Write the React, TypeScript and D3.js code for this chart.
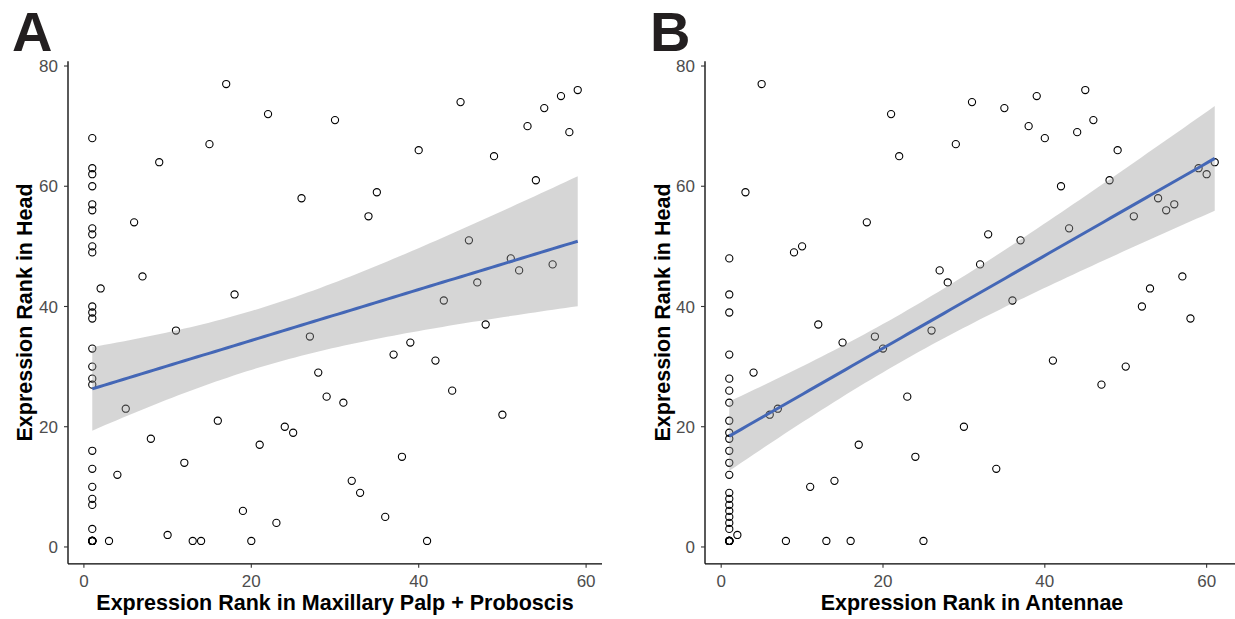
import * as d3 from "d3";

// Panel A: rank in maxillary palp + proboscis vs rank in head
const palpRank = [
  1, 1, 1, 1, 1, 1, 1, 1, 1, 1, 1, 1, 1, 1, 1, 1, 1, 1, 1, 1, 1, 1, 1, 1, 1, 1, 1, 1, 1,
  2, 3, 4, 5, 6, 7, 8, 9, 10, 11, 12, 13, 14, 15, 16, 17, 18, 19, 20, 21, 22, 23, 24, 25,
  26, 27, 28, 29, 30, 31, 32, 33, 34, 35, 36, 37, 38, 39, 40, 41, 42, 43, 44, 45, 46, 47,
  48, 49, 50, 51, 52, 53, 54, 55, 56, 57, 58, 59,
];
const headRankA = [
  68, 63, 62, 60, 57, 56, 53, 52, 50, 49, 40, 39, 38, 33, 30, 28, 27, 16, 13, 10, 8, 7, 3, 1, 1, 1, 1, 1, 1,
  43, 1, 12, 23, 54, 45, 18, 64, 2, 36, 14, 1, 1, 67, 21, 77, 42, 6, 1, 17, 72, 4, 20, 19,
  58, 35, 29, 25, 71, 24, 11, 9, 55, 59, 5, 32, 15, 34, 66, 1, 31, 41, 26, 74, 51, 44,
  37, 65, 22, 48, 46, 70, 61, 73, 47, 75, 69, 76,
];

// Panel B: rank in antennae vs rank in head
const antennaeRank = [
  1, 1, 1, 1, 1, 1, 1, 1, 1, 1, 1, 1, 1, 1, 1, 1, 1, 1, 1, 1, 1, 1, 1, 1, 1, 1, 1,
  2, 3, 4, 5, 6, 7, 8, 9, 10, 11, 12, 13, 14, 15, 16, 17, 18, 19, 20, 21, 22, 23, 24, 25,
  26, 27, 28, 29, 30, 31, 32, 33, 34, 35, 36, 37, 38, 39, 40, 41, 42, 43, 44, 45, 46, 47,
  48, 49, 50, 51, 52, 53, 54, 55, 56, 57, 58, 59, 60, 61,
];
const headRankB = [
  48, 42, 39, 32, 28, 26, 24, 21, 19, 18, 16, 14, 12, 9, 8, 7, 6, 5, 4, 3, 1, 1, 1, 1, 1, 1, 1,
  2, 59, 29, 77, 22, 23, 1, 49, 50, 10, 37, 1, 11, 34, 1, 17, 54, 35, 33, 72, 65, 25, 15, 1,
  36, 46, 44, 67, 20, 74, 47, 52, 13, 73, 41, 51, 70, 75, 68, 31, 60, 53, 69, 76, 71, 27,
  61, 66, 30, 55, 40, 43, 58, 56, 57, 45, 38, 63, 62, 64,
];

const xTicks = [0, 20, 40, 60];
const yTicks = [0, 20, 40, 60, 80];

const FONT = "'Liberation Sans', Arial, Helvetica, sans-serif";
const T975 = 1.988;

type PanelProps = {
  label: string;
  xs: number[];
  ys: number[];
  xTitle: string;
  x0: number;
  x1: number;
  labelX: number;
};

function fitLm(xs: number[], ys: number[]) {
  const n = xs.length;
  const mx = d3.mean(xs)!;
  const my = d3.mean(ys)!;
  let sxx = 0, sxy = 0;
  xs.forEach((x, i) => {
    sxx += (x - mx) * (x - mx);
    sxy += (x - mx) * (ys[i] - my);
  });
  const b = sxy / sxx;
  const a = my - b * mx;
  let sse = 0;
  xs.forEach((x, i) => {
    const r = ys[i] - (a + b * x);
    sse += r * r;
  });
  const s = Math.sqrt(sse / (n - 2));
  return { a, b, s, n, mx, sxx };
}

const Panel = ({ label, xs, ys, xTitle, x0, x1, labelX }: PanelProps) => {
  const [xmin, xmax] = d3.extent(xs) as [number, number];
  const [ymin, ymax] = d3.extent(ys) as [number, number];
  const xpad = (xmax - xmin) * 0.05;
  const ypad = (ymax - ymin) * 0.05;

  const x = d3.scaleLinear().domain([xmin - xpad, xmax + xpad]).range([x0, x1]);
  const y = d3.scaleLinear().domain([ymin - ypad, ymax + ypad]).range([563.8, 61.2]);

  // linear fit with 95% confidence band (like geom_smooth(method = "lm"))
  const fit = fitLm(xs, ys);
  const grid = d3.range(80).map((i) => xmin + ((xmax - xmin) * i) / 79);
  const band = grid.map((gx) => {
    const yh = fit.a + fit.b * gx;
    const se = fit.s * Math.sqrt(1 / fit.n + ((gx - fit.mx) ** 2) / fit.sxx);
    return { gx, yh, lo: yh - T975 * se, hi: yh + T975 * se };
  });

  const area = d3
    .area<{ gx: number; lo: number; hi: number }>()
    .x((d) => x(d.gx))
    .y0((d) => y(d.lo))
    .y1((d) => y(d.hi));
  const line = d3
    .line<{ gx: number; yh: number }>()
    .x((d) => x(d.gx))
    .y((d) => y(d.yh));

  const axX = x0;
  const axY = 563.8;

  return (
    <g fontFamily={FONT}>
      <text x={labelX} y={51} fontSize={56} fontWeight="bold" fill="#231f20">
        {label}
      </text>

      {xs.map((d, i) => (
        <circle
          key={i}
          cx={x(d)}
          cy={y(ys[i])}
          r={3.6}
          fill="none"
          stroke="#000"
          strokeWidth={1.1}
        />
      ))}

      <path d={area(band) || ""} fill="#999999" fillOpacity={0.4} />
      <path d={line(band) || ""} fill="none" stroke="#4467b6" strokeWidth={3} />

      {/* axes */}
      <line x1={axX} x2={axX} y1={61.2} y2={axY} stroke="#000" strokeWidth={1.3} />
      <line x1={axX} x2={x1} y1={axY} y2={axY} stroke="#000" strokeWidth={1.3} />
      {yTicks.map((t) => (
        <g key={t}>
          <line x1={axX - 4} x2={axX} y1={y(t)} y2={y(t)} stroke="#333" strokeWidth={1.1} />
          <text
            x={axX - 10}
            y={y(t)}
            dy="0.36em"
            textAnchor="end"
            fontSize={17}
            fill="#4d4d4d"
          >
            {t}
          </text>
        </g>
      ))}
      {xTicks.map((t) => (
        <g key={t}>
          <line x1={x(t)} x2={x(t)} y1={axY} y2={axY + 4} stroke="#333" strokeWidth={1.1} />
          <text x={x(t)} y={axY + 23} textAnchor="middle" fontSize={17} fill="#4d4d4d">
            {t}
          </text>
        </g>
      ))}

      <text
        x={(x0 + x1) / 2}
        y={610}
        textAnchor="middle"
        fontSize={21.5}
        fontWeight="bold"
        fill="#000"
      >
        {xTitle}
      </text>
      <text
        transform={`translate(${labelX + 19.5},${(61.2 + axY) / 2}) rotate(-90)`}
        textAnchor="middle"
        fontSize={21.5}
        fontWeight="bold"
        fill="#000"
      >
        Expression Rank in Head
      </text>
    </g>
  );
};

export default function App() {
  return (
    <svg
      width={1235}
      height={619}
      style={{ position: "absolute", left: 0, top: 0, background: "#fff" }}
    >
      <Panel
        label="A"
        xs={palpRank}
        ys={headRankA}
        xTitle="Expression Rank in Maxillary Palp + Proboscis"
        x0={68}
        x1={602}
        labelX={12}
      />
      <Panel
        label="B"
        xs={antennaeRank}
        ys={headRankB}
        xTitle="Expression Rank in Antennae"
        x0={705}
        x1={1239}
        labelX={650}
      />
    </svg>
  );
}
